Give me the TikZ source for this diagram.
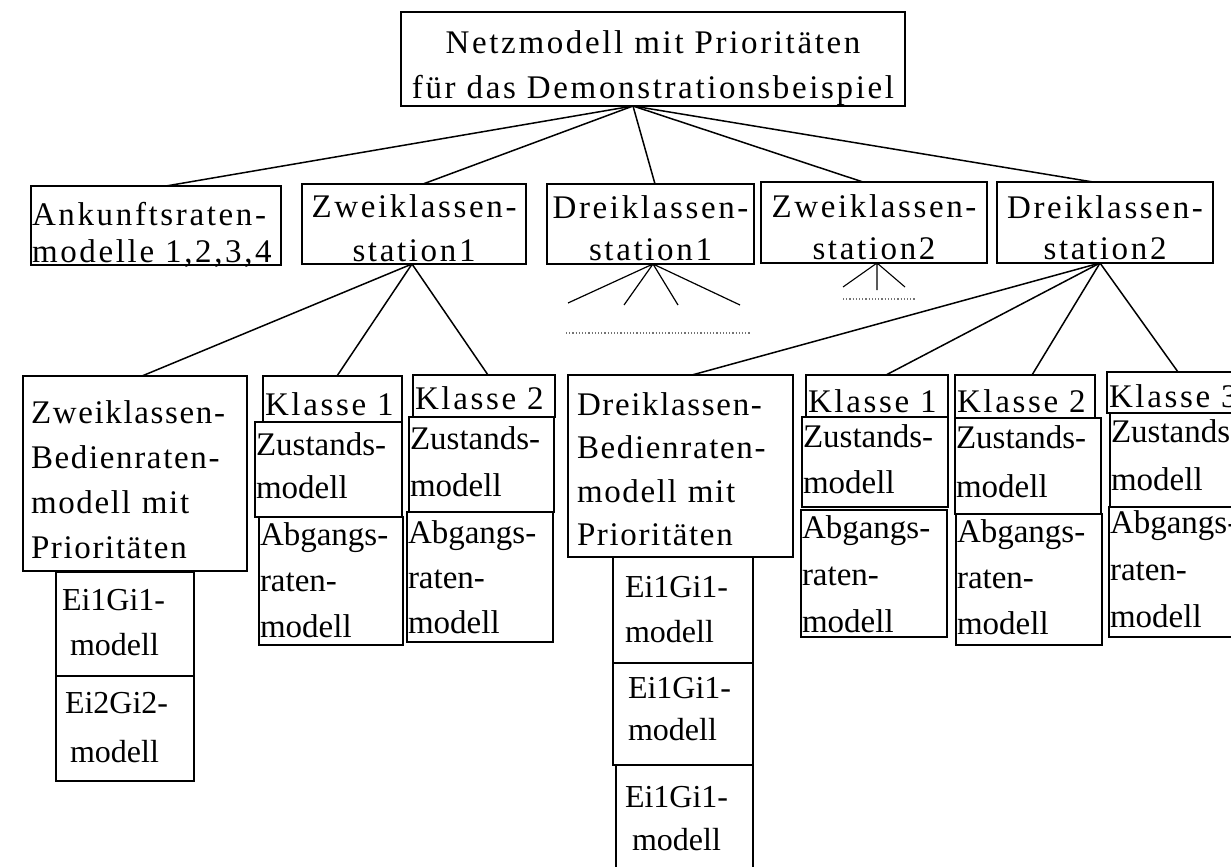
\documentclass[tikz,border=0pt]{standalone}
\usepackage{fontspec}
\setmainfont{Liberation Serif}
\newfontfamily\wfont[LetterSpace=8]{Liberation Serif}
\newfontfamily\vfont[LetterSpace=5]{Liberation Serif}
\usetikzlibrary{calc}
\hyphenpenalty=10000
\exhyphenpenalty=10000
\begin{document}
\begin{tikzpicture}[x=1pt,y=-1pt,
  bx/.style={draw=black, line width=1.6pt, inner ysep=0pt, outer sep=0pt},
  thk/.style={line width=2.4pt},
  geo/.style n args={4}{inner xsep=#4, text width=#1, text height=#2, text depth=#3},
  fbig/.style={font=\wfont\fontsize{33pt}{#1}\selectfont},
  fsm/.style={font=\fontsize{33pt}{#1}\selectfont},
  fei/.style={font=\fontsize{32pt}{#1}\selectfont},
  conn/.style={line width=1.5pt, black},
  dots/.style={line width=1.2pt, dotted, black!55},
]
\useasboundingbox (0,0) rectangle (1231,867);
\fill[white] (0,0) rectangle (1231,867);
\clip (0,0) rectangle (1231,867);

% ---- top
\node[bx, fbig=45pt, align=center, geo={500pt}{41pt}{53pt}{2pt}] (top) at (653,59)
  {Netzmodell~mit~Prioritäten\\für~das~Demonstrationsbeispiel};

% ---- row 2
\node[bx, fbig=37pt, align=left, geo={248pt}{39pt}{40pt}{1pt}] (ank) at (156,225.5)
  {Ankunftsraten-\\modelle~1,2,3,4};
\node[bx, thk, fbig=44pt, align=center, geo={220pt}{33pt}{47pt}{2pt}] (z1) at (414,224)
  {Zweiklassen-\\station1};
\node[bx, fbig=42pt, align=center, geo={203pt}{34pt}{46pt}{2pt}] (d1) at (650.5,224)
  {Dreiklassen-\\station1};
\node[bx, fbig=42pt, align=center, geo={222pt}{35pt}{46pt}{2pt}] (z2) at (874,222.5)
  {Zweiklassen-\\station2};
\node[bx, thk, fbig=41pt, align=center, geo={212pt}{36pt}{45pt}{2pt}] (d2) at (1105,222.5)
  {Dreiklassen-\\station2};

% ---- row 3, left group
\node[bx, font=\vfont\fontsize{33pt}{45pt}\selectfont, align=left, geo={208pt}{47pt}{148pt}{8pt}] (zb) at (135,473.5)
  {Zweiklassen-\\Bedienraten-\\modell~mit\\Prioritäten};
\node[bx, thk, fei=45pt, align=left, geo={126pt}{38pt}{66pt}{6pt}] (zbe1) at (125,624)
  {Ei1Gi1-\\\hspace*{8pt}modell};
\node[bx, thk, fei=49pt, align=left, geo={120pt}{37pt}{68pt}{9pt}] (zbe2) at (125,728.5)
  {Ei2Gi2-\\\hspace*{5pt}modell};

\node[bx, fbig=45pt, align=left, geo={135pt}{39pt}{7pt}{2pt}] (k1a) at (332.5,399)
  {Klasse~1};
\node[bx, thk, fsm=43pt, align=left, geo={145pt}{33pt}{62pt}{1pt}] (k1az) at (328.5,469.5)
  {Zustands-\\modell};
\node[bx, fsm=46pt, align=left, geo={142pt}{28pt}{100pt}{1pt}] (k1aa) at (331,581)
  {Abgangs-\\raten-\\modell};

\node[bx, fbig=45pt, align=left, geo={138pt}{34pt}{8pt}{2pt}] (k2a) at (484,396)
  {Klasse~2};
\node[bx, fsm=47pt, align=left, geo={143pt}{32pt}{63pt}{1pt}] (k2az) at (481.5,464.5)
  {Zustands-\\modell};
\node[bx, fsm=45pt, align=left, geo={144pt}{31pt}{99pt}{1pt}] (k2aa) at (480,577)
  {Abgangs-\\raten-\\modell};

% ---- row 3, right group
\node[bx, font=\vfont\fontsize{33pt}{43.5pt}\selectfont, align=left, geo={207pt}{40pt}{142pt}{9pt}] (db) at (680.5,466)
  {Dreiklassen-\\Bedienraten-\\modell~mit\\Prioritäten};
\node[bx, fei=45pt, align=left, geo={116pt}{40pt}{66pt}{12pt}] (dbe1) at (683,610)
  {Ei1Gi1-\\modell};
\node[bx, thk, fei=42pt, align=left, geo={110pt}{35pt}{67pt}{15pt}] (dbe2) at (683,714)
  {Ei1Gi1-\\modell};
\node[bx, fei=43pt, align=left, geo={119pt}{42pt}{78pt}{9pt}] (dbe3) at (684.5,825)
  {Ei1Gi1-\\\hspace*{7pt}modell};

\node[bx, fbig=45pt, align=left, geo={138pt}{37pt}{5pt}{2pt}] (k1b) at (877,396)
  {Klasse~1};
\node[bx, thk, fsm=46pt, align=left, geo={144pt}{30pt}{60pt}{1pt}] (k1bz) at (875,462)
  {Zustands-\\modell};
\node[bx, fsm=47pt, align=left, geo={144pt}{28pt}{99pt}{1pt}] (k1ba) at (874,573.5)
  {Abgangs-\\raten-\\modell};

\node[bx, thk, fbig=45pt, align=left, geo={136pt}{37pt}{6pt}{2pt}] (k2b) at (1025,396.5)
  {Klasse~2};
\node[bx, fsm=49pt, align=left, geo={144pt}{30pt}{66pt}{1pt}] (k2bz) at (1028,466)
  {Zustands-\\modell};
\node[bx, thk, fsm=46pt, align=left, geo={144pt}{28pt}{103pt}{1pt}] (k2ba) at (1029,579.5)
  {Abgangs-\\raten-\\modell};

\node[bx, fbig=45pt, align=left, geo={149pt}{35pt}{6pt}{2pt}] (k3b) at (1183.5,392.5)
  {Klasse~3};
\node[bx, thk, fsm=48pt, align=left, geo={148pt}{29pt}{65pt}{1pt}] (k3bz) at (1185,460)
  {Zustands-\\modell};
\node[bx, fsm=47pt, align=left, geo={149pt}{26pt}{104pt}{1pt}] (k3ba) at (1184.5,572)
  {Abgangs-\\raten-\\modell};

% ---- connectors from the top
\coordinate (tf) at ([xshift=-20pt]top.south);
\draw[conn] (tf) -- ([xshift=10pt]ank.north);
\draw[conn] (tf) -- ([xshift=9pt]z1.north);
\draw[conn] (tf) -- ([xshift=4.5pt]d1.north);
\draw[conn] (tf) -- ([xshift=-11pt]z2.north);
\draw[conn] (tf) -- ([xshift=-12pt]d2.north);

% ---- Zweiklassenstation 1
\coordinate (f1) at ([xshift=-2pt]z1.south);
\draw[conn] (f1) -- ([xshift=7pt]zb.north);
\draw[conn] (f1) -- ([xshift=4.5pt]k1a.north);
\draw[conn] (f1) -- ([xshift=4pt]k2a.north);

% ---- Dreiklassenstation 1 (abbreviated)
\coordinate (f2) at ([xshift=2.5pt]d1.south);
\coordinate (e1) at (568,303);
\coordinate (e2) at (624,305);
\coordinate (e3) at (678,305);
\coordinate (e4) at (740,305);
\draw[conn, line width=1.2pt] (f2) -- (e1) (f2) -- (e2) (f2) -- (e3) (f2) -- (e4);
\coordinate (dl1) at (566,333);
\coordinate (dl2) at (751,333);
\draw[dots] (dl1) -- (dl2);

% ---- Zweiklassenstation 2 (abbreviated)
\coordinate (f3) at ([xshift=3pt]z2.south);
\coordinate (g1) at (843,287);
\coordinate (g2) at (877,290);
\coordinate (g3) at (905,287);
\draw[conn, line width=1.1pt] (f3) -- (g1) (f3) -- (g2) (f3) -- (g3);
\coordinate (dm1) at (843,299);
\coordinate (dm2) at (915,299);
\draw[dots] (dm1) -- (dm2);

% ---- Dreiklassenstation 2
\coordinate (f4) at ([xshift=-5pt]d2.south);
\draw[conn] (f4) -- ([xshift=11.5pt]db.north);
\draw[conn] (f4) -- ([xshift=9pt]k1b.north);
\draw[conn] (f4) -- ([xshift=7pt]k2b.north);
\draw[conn] (f4) -- ([xshift=-5.5pt]k3b.north);
\end{tikzpicture}
\end{document}
